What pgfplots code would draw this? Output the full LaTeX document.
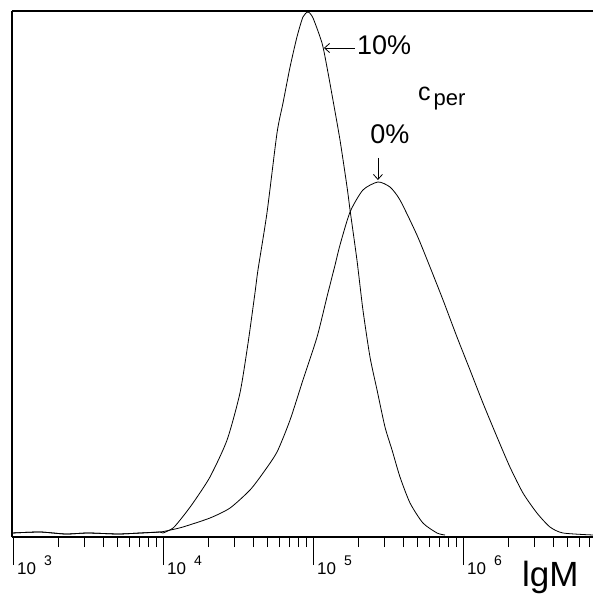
\documentclass[border=0pt]{standalone}
\usepackage{fontspec}
\setmainfont{Liberation Sans}
\usepackage{pgfplots}
\pgfplotsset{compat=1.18}
\usetikzlibrary{arrows.meta}
\newcommand\dec[1]{{\fontsize{17}{17}\selectfont 10\hspace{8pt}\raisebox{9pt}{\fontsize{14}{14}\selectfont #1}}}
\begin{document}
\begin{tikzpicture}
\useasboundingbox (-12pt,-59pt) rectangle (581pt,537pt);
\begin{axis}[
  at={(0pt,0pt)}, anchor=south west,
  scale only axis, width=581pt, height=526pt,
  xmin=2.993, xmax=6.867, ymin=0, ymax=526,
  axis x line*=bottom, axis y line*=left,
  axis line style={-},
  x axis line style={line width=1.2pt},
  y axis line style={line width=2.5pt},
  xtick={3,4,5,6},
  minor xtick={3.30103,3.47712,3.60206,3.69897,3.77815,3.84510,3.90309,3.95424,
               4.30103,4.47712,4.60206,4.69897,4.77815,4.84510,4.90309,4.95424,
               5.30103,5.47712,5.60206,5.69897,5.77815,5.84510,5.90309,5.95424,
               6.30103,6.47712,6.60206,6.69897,6.77815,6.84510},
  xticklabels=\empty,
  ytick=\empty,
  xtick align=outside,
  major tick length=28pt, minor tick length=10pt,
  every tick/.style={black, line width=0.8pt},
  clip=false,
]
% top frame line
\draw[line width=2pt] (rel axis cs:0,1) -- (rel axis cs:1,1);

% c_per = 10%
\addplot[black, line width=0.8pt, smooth, tension=0.4] coordinates {
(2.995,4) (3.18,5) (3.35,3) (3.5,4) (3.7,3) (3.85,4) (3.98,5) (4.0,4)
(4.067,9) (4.13,20) (4.2,34) (4.313,60) (4.427,97) (4.513,144) (4.567,194)
(4.613,244) (4.633,267) (4.693,324) (4.76,404) (4.8,434) (4.847,470)
(4.893,500) (4.933,520) (4.967,525) (5.0,519) (5.06,494) (5.093,470)
(5.133,437) (5.18,397) (5.227,350) (5.247,327) (5.293,277) (5.333,227)
(5.38,180) (5.427,147) (5.48,110) (5.527,87) (5.58,60) (5.647,34)
(5.733,14) (5.827,4) (5.88,2)
};

% c_per = 0%
\addplot[black, line width=0.8pt, smooth, tension=0.4] coordinates {
(2.995,4) (3.18,5) (3.35,3) (3.5,4) (3.7,3) (3.85,4) (3.98,5) (4.05,7)
(4.133,10) (4.313,19) (4.447,29) (4.58,47) (4.667,64) (4.76,85) (4.847,117)
(4.933,157) (5.027,200) (5.093,240) (5.147,272) (5.18,292) (5.247,325)
(5.333,347) (5.433,355) (5.513,350) (5.58,337) (5.693,302) (5.78,270)
(5.867,237) (5.96,200) (6.047,167) (6.133,134) (6.227,100) (6.313,70)
(6.4,44) (6.493,24) (6.58,10) (6.667,4) (6.867,2)
};

% annotations
\node[anchor=west, inner sep=0pt, font=\fontsize{27}{27}\selectfont] at (axis cs:5.293,492) {10\%};
\draw[-{Straight Barb[length=5pt,width=9pt]}, line width=0.8pt] (axis cs:5.28,489) -- (axis cs:5.073,489);
\node[anchor=base west, inner sep=0pt] at (axis cs:5.7,436)
  {{\fontsize{25}{25}\selectfont c}\hspace{3pt}\raisebox{-5pt}{\fontsize{22}{22}\selectfont per}};
\node[anchor=center, inner sep=0pt, font=\fontsize{27}{27}\selectfont] at (axis cs:5.513,403) {0\%};
\draw[-{Straight Barb[length=5pt,width=9pt]}, line width=0.8pt] (axis cs:5.433,379) -- (axis cs:5.433,357);

% decade labels
\node[anchor=base west, inner sep=0pt, xshift=4pt] at (axis cs:3,-37) {\dec{3}};
\node[anchor=base west, inner sep=0pt, xshift=4pt] at (axis cs:4,-37) {\dec{4}};
\node[anchor=base west, inner sep=0pt, xshift=4pt] at (axis cs:5,-37) {\dec{5}};
\node[anchor=base west, inner sep=0pt, xshift=4pt] at (axis cs:6,-37) {\dec{6}};
\node[anchor=base west, inner sep=0pt, font=\fontsize{35}{35}\selectfont] at (axis cs:6.393,-49) {lgM};
\end{axis}
\end{tikzpicture}
\end{document}
